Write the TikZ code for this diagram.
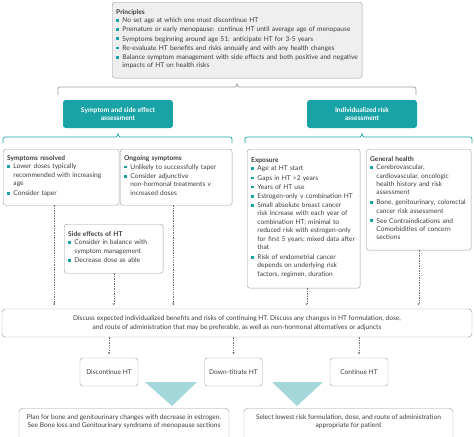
\documentclass[tikz,border=0pt]{standalone}
\usepackage{fontspec}
\setmainfont{Lato}
\usetikzlibrary{arrows.meta,calc,positioning}
\definecolor{bmjteal}{HTML}{1AA3A6}
\definecolor{paleteal}{HTML}{A3D7D9}
\definecolor{boxline}{HTML}{9C9C9C}
\definecolor{textgrey}{HTML}{3C3C3C}
\definecolor{princfill}{HTML}{EFEFEF}
\definecolor{arrowgrey}{HTML}{707070}

\newcommand{\sqbullet}{\textcolor{bmjteal}{\rule[0.12em]{0.42em}{0.42em}}}
% one bullet item, lines split by \\ as printed
\newcommand{\bitem}[1]{\par\noindent\makebox[0.95em][l]{\sqbullet}%
  \begin{tabular}[t]{@{}l@{}}#1\end{tabular}\par\vspace{1pt}}

\begin{document}
\begin{tikzpicture}[x=0.05cm,y=-0.05cm,
    every node/.style={text=textgrey,font=\fontsize{9.4}{12}\selectfont},
    infobox/.style={draw=boxline,line width=0.6pt,rounded corners=4pt,anchor=north west,
      align=left,inner xsep=0.2cm,inner ysep=3pt,font=\fontsize{9.4}{12}\selectfont},
    headbox/.style={fill=bmjteal,rounded corners=4pt,minimum width=5.5cm,minimum height=1.4cm,
      align=center,text=white,font=\fontsize{9.6}{12}\selectfont\bfseries},
    choicebox/.style={draw=boxline,line width=0.6pt,rounded corners=4pt,minimum width=2.9cm,
      minimum height=1.4cm},
    notebox/.style={draw=boxline,line width=0.6pt,rounded corners=5pt,anchor=north,align=center,
      inner ysep=0.3cm},
    dasharr/.style={arrowgrey,line width=0.5pt,dash pattern=on 2pt off 1.5pt,
      -{Stealth[length=3pt,width=3pt]},shorten >=5pt},
    tealbrace/.style={bmjteal,line width=1pt,rounded corners=3pt},
    greybrace/.style={boxline,line width=1pt,rounded corners=3pt}]
  \useasboundingbox (0,0) rectangle (474,436);

  % principles
  \node[infobox,fill=princfill,text width=12.1cm,minimum height=3.8cm] (princ) at (112,2) {%
    \textbf{Principles}
    \bitem{No set age at which one must discontinue HT}
    \bitem{Premature or early menopause: continue HT until average age of menopause}
    \bitem{Symptoms beginning around age 51: anticipate HT for 3-5 years}
    \bitem{Re-evaluate HT benefits and risks annually and with any health changes}
    \bitem{Balance symptom management with side effects and both positive and negative\\
      impacts of HT on health risks}};
  \draw[greybrace] (58,95) -- (58,87) -- (233,87)
    .. controls (235.5,87) and (237,85) .. (237,82)
    .. controls (237,85) and (238.5,87) .. (241,87) -- (416,87) -- (416,95);

  % two assessment heads
  \node[headbox] (symhead) at (118,114) {Symptom and side effect\\assessment};
  \node[headbox] (riskhead) at (362,114) {Individualized risk\\assessment};
  \draw[tealbrace] (3,143) -- (3,137) -- (114,137)
    .. controls (116.5,137) and (118,135) .. (118,132)
    .. controls (118,135) and (119.5,137) .. (122,137) -- (232,137) -- (232,143);
  \draw[tealbrace] (245,143) -- (245,137) -- (358,137)
    .. controls (360.5,137) and (362,135) .. (362,132)
    .. controls (362,135) and (363.5,137) .. (366,137) -- (472,137) -- (472,143);

  % symptom boxes
  \node[infobox,text width=5.4cm,minimum height=2.8cm] (resolved) at (3,149) {%
    \textbf{Symptoms resolved}
    \bitem{Lower doses typically\\recommended with increasing\\age}
    \bitem{Consider taper}};
  \node[infobox,text width=5.2cm,minimum height=2.8cm] (ongoing) at (120,149) {%
    \textbf{Ongoing symptoms}
    \bitem{Unlikely to successfully taper}
    \bitem{Consider adjunctive\\non-hormonal treatments v\\increased doses}};
  \node[infobox,text width=4.55cm,minimum height=2.45cm] (sidefx) at (64,224) {%
    \textbf{Side effects of HT}
    \bitem{Consider in balance with\\symptom management}
    \bitem{Decrease dose as able}};

  % risk boxes
  \node[infobox,text width=5.25cm,minimum height=6.95cm] (exposure) at (247,149) {%
    \textbf{Exposure}
    \bitem{Age at HT start}
    \bitem{Gaps in HT >2 years}
    \bitem{Years of HT use}
    \bitem{Estrogen-only v combination HT}
    \bitem{Small absolute breast cancer\\risk increase with each year of\\
      combination HT; minimal to\\reduced risk with estrogen-only\\
      for first 5 years; mixed data after\\that}
    \bitem{Risk of endometrial cancer\\depends on underlying risk\\factors, regimen, duration}};
  \node[infobox,text width=4.85cm,minimum height=5.05cm] (genhealth) at (366,149) {%
    \textbf{General health}
    \bitem{Cerebrovascular,\\cardiovascular, oncologic\\health history and risk\\assessment}
    \bitem{Bone, genitourinary, colorectal\\cancer risk assessment}
    \bitem{See Contraindications and\\Comorbidities of concern\\sections}};

  % discussion
  \node[draw=boxline,line width=0.6pt,rounded corners=5pt,minimum width=23.5cm,minimum height=1.4cm,
    align=center] (discuss) at (237,323)
    {Discuss expected individualized benefits and risks of continuing HT. Discuss any changes in HT formulation, dose,\\
     and route of administration that may be preferable, as well as non-hormonal alternatives or adjuncts};

  \draw[dasharr] ([xshift=-0.35cm]resolved.south) -- ([xshift=-0.35cm]resolved.south |- discuss.north);
  \draw[dasharr] (sidefx.south) -- (sidefx.south |- discuss.north);
  \draw[dasharr] ([xshift=-0.15cm]ongoing.south) -- ([xshift=-0.15cm]ongoing.south |- discuss.north);
  \draw[dasharr] ([xshift=0.15cm]exposure.south) -- ([xshift=0.15cm]exposure.south |- discuss.north);
  \draw[dasharr] (genhealth.south) -- (genhealth.south |- discuss.north);

  % outcomes
  \node[choicebox] (stopht) at (109,372) {Discontinue HT};
  \node[choicebox] (downht) at (233.5,372) {Down-titrate HT};
  \node[choicebox] (contht) at (359,372) {Continue HT};
  \foreach \n in {stopht,downht,contht}
    \draw[dasharr] (discuss.south -| \n.north) -- (\n.north);

  \fill[paleteal] (145,382) -- (197,382) -- (172,406) -- cycle;
  \fill[paleteal] (272,382) -- (323,382) -- (297,406) -- cycle;

  \node[notebox,minimum width=10.5cm] (planbox) at (124,408)
    {Plan for bone and genitourinary changes with decrease in estrogen.\\
     See Bone loss and Genitourinary syndrome of menopause sections\rule[-12pt]{0pt}{12pt}};
  \node[notebox,minimum width=10.45cm] (selectbox) at (348.5,408)
    {Select lowest risk formulation, dose, and route of administration\\
     appropriate for patient\rule[-12pt]{0pt}{12pt}};
\end{tikzpicture}
\end{document}
